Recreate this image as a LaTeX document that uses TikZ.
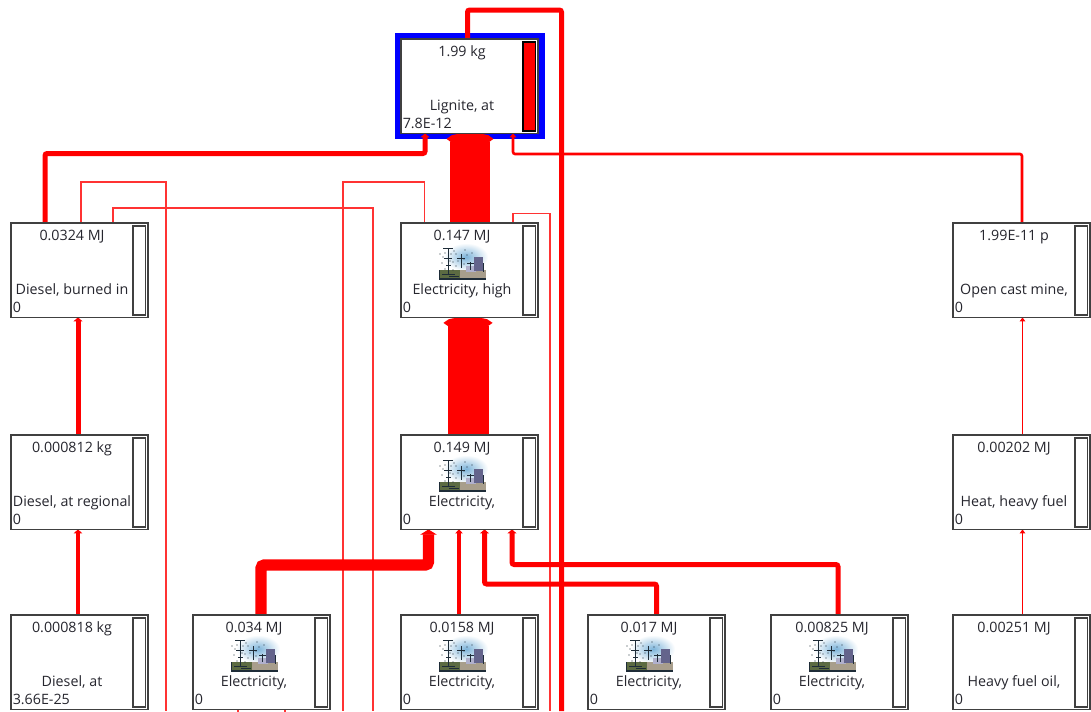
\documentclass[tikz,border=0pt]{standalone}
\usepackage{fontspec}
\setmainfont{Open Sans}
\usetikzlibrary{arrows.meta}
\pgfdeclarelayer{framelayer}
\pgfdeclarelayer{connlayer}
\pgfsetlayers{framelayer,connlayer,main}
\definecolor{boxgray}{HTML}{404040}
\definecolor{txt}{HTML}{26262E}
\definecolor{glow}{HTML}{7DB4DA}
\definecolor{soil}{HTML}{A89E8C}
\definecolor{grass}{HTML}{5C6B42}
\definecolor{plant}{HTML}{64648C}
\definecolor{plantb}{HTML}{B0B0CC}
\definecolor{pylon}{HTML}{1E2C38}
\tikzset{
  procbox/.style={draw=boxgray,fill=white,line width=1.1pt,inner sep=0pt,outer sep=0pt,minimum width=102.8pt,minimum height=70.8pt,anchor=north west},
  barbox/.style={draw=boxgray,fill=white,line width=1.1pt,inner sep=0pt,outer sep=0pt,minimum width=9.4pt,minimum height=66.8pt,anchor=north west},
  qtytext/.style={inner sep=0pt,anchor=base,text=txt,font=\fontsize{10.7}{12}\selectfont},
  valtext/.style={inner sep=0pt,anchor=base west,text=txt,font=\fontsize{10.7}{12}\selectfont},
  wire/.style={draw=red,line width=#1*0.75pt,rounded corners=1.6pt},
  thinwire/.style={draw=red!80,line width=1.1pt},
  flow/.style={wire=#1,-{Triangle[length=3pt 0 0,width=3pt 1 0]}},
  bigflow/.style 2 args={draw=red,line width=#1*0.75pt,rounded corners=1.6pt,-{Ellipse[length=8.25pt 0 0,width=#2*0.75pt 0 0]}},
}
% id, x, y, quantity, label, value
\newcommand{\procnode}[6]{%
  \node[procbox] (#1) at (#2,#3) {};
  \node[barbox] (#1-bar) at (#2+122,#3+3) {};
  \node[qtytext] (#1-qty) at (#2+61,#3+17.5) {#4};
  \node[qtytext] (#1-lab) at (#2+61,#3+71) {#5};
  \node[valtext] (#1-val) at (#2+1.5,#3+89.5) {#6};
}
\newcommand{\gridicon}[2]{%
  \begin{scope}[shift={(#1+38,#2+22)}]
    \shade[inner color=glow,outer color=white] (27,12) ellipse (22 and 14);
    \fill[soil] (0,25) rectangle (47,34);
    \fill[grass] (0,25) rectangle (21,33);
    \fill[pylon] (0,33) rectangle (47,34.5);
    \fill[pylon] (0,25) rectangle (1.2,34);
    \fill[plantb] (27,21) rectangle (37,27);
    \fill[plant] (35,12) rectangle (44,26);
    \fill[pylon] (44,18) rectangle (45,27);
    \draw[pylon,line width=0.7pt] (9,3) -- (9,30) (4,3.5) -- (14,3.5) (5,13) -- (13,13) (7,20) -- (12,20);
    \draw[pylon,line width=0.6pt] (22,9) -- (22,23) (18,13) -- (26,13);
    \draw[pylon,line width=0.6pt] (31,17) -- (31,25) (28,18) -- (35,18);
    \draw[pylon,line width=0.5pt] (3,29) -- (16,29) (10,31.5) -- (20,31.5);
    \foreach \dx/\dy in {1/9,4/12,15/6,17/9,26/5,28/10,14/17,17/21,25/19,3/18,19/16,6/8,12/9,11/16,6/24,14/25,25/14,33/8}
      \fill[pylon] (\dx,\dy) circle (0.7);
  \end{scope}%
}
\begin{document}
\begin{tikzpicture}[x=0.75pt,y=-0.75pt]
\useasboundingbox (0,0) rectangle (1091,711);
\begin{pgfonlayer}{framelayer}
  \fill[white] (0,0) rectangle (1091,711);
\end{pgfonlayer}

% process boxes
\procnode{lign}{401}{39}{1.99 kg}{Lignite, at}{7.8E-12}
\procnode{burn}{11}{223}{0.0324 MJ}{Diesel, burned in}{0}
\procnode{high}{401}{223}{0.147 MJ}{Electricity, high}{0}
\procnode{mine}{953}{223}{1.99E-11 p}{Open cast mine,}{0}
\procnode{regi}{11}{435}{0.000812 kg}{Diesel, at regional}{0}
\procnode{elec}{401}{435}{0.149 MJ}{Electricity,}{0}
\procnode{heat}{953}{435}{0.00202 MJ}{Heat, heavy fuel}{0}
\procnode{dies}{11}{615}{0.000818 kg}{Diesel, at}{3.66E-25}
\procnode{ea}{193}{615}{0.034 MJ}{Electricity,}{0}
\procnode{eb}{401}{615}{0.0158 MJ}{Electricity,}{0}
\procnode{ec}{588}{615}{0.017 MJ}{Electricity,}{0}
\procnode{ed}{771}{615}{0.00825 MJ}{Electricity,}{0}
\procnode{oil}{953}{615}{0.00251 MJ}{Heavy fuel oil,}{0}

% red bar of the selected process
\node[barbox,fill=red,draw=black,line width=0.9pt] (lign-level) at (523,42) {};

\gridicon{401}{223}
\gridicon{401}{435}
\gridicon{193}{615}
\gridicon{401}{615}
\gridicon{588}{615}
\gridicon{771}{615}

\begin{pgfonlayer}{framelayer}
  \node[draw=none,fill=blue,inner sep=0pt,outer sep=0pt,minimum width=112.5pt,minimum height=79.5pt,anchor=north west] (lign-frame) at (395,33) {};
\end{pgfonlayer}

\coordinate (bA) at (166,711);
\coordinate (bB) at (373,711);
\coordinate (bC) at (343,711);
\coordinate (bD) at (550,711);
\coordinate (bE) at (561.5,711);
\coordinate (bF) at (238,712);
\coordinate (bG) at (285,712);

\begin{pgfonlayer}{connlayer}
  % main trunks
  \draw[bigflow={40}{43}] (high.north -| 470,0) -- (lign.south -| 470,0);
  \draw[bigflow={41}{45}] (elec.north -| 468,0) -- (high.south -| 468,0);
  % lignite connections
  \draw[wire=5] (lign.north -| 467.5,0) -- (467.5,10) -- (561.5,10) -- (bE);
  \draw[flow=5] (burn.north -| 45,0) -- (45,153.5) -- (425,153.5) -- (lign.south -| 425,0);
  \draw[flow=2.6] (mine.north -| 1022,0) -- (1022,154) -- (513,154) -- (lign.south -| 513,0);
  % thin lines
  \draw[thinwire] (burn.north -| 81,0) -- (81,182) -- (166,182) -- (bA);
  \draw[thinwire] (burn.north -| 113,0) -- (113,208) -- (373,208) -- (bB);
  \draw[thinwire] (high.north -| 424.5,0) -- (424.5,182) -- (343,182) -- (bC);
  \draw[thinwire] (high.north -| 513,0) -- (513,213.5) -- (550,213.5) -- (bD);
  \draw[thinwire] (ea.south -| 238,0) -- (bF);
  \draw[thinwire] (ea.south -| 285,0) -- (bG);
  % left column
  \draw[flow=5] (regi.north -| 78,0) -- (burn.south -| 78,0);
  \draw[flow=4.5] (dies.north -| 78,0) -- (regi.south -| 78,0);
  % right column
  \draw[flow=1.5] (heat.north -| 1022.5,0) -- (mine.south -| 1022.5,0);
  \draw[flow=1.5] (oil.north -| 1022.5,0) -- (heat.south -| 1022.5,0);
  % into the 0.149 MJ process
  \draw[draw=red,line width=8.5pt,rounded corners=2.5pt,-{Triangle[length=4pt 0 0,width=12.5pt 0 0]}] (ea.north -| 261,0) -- (261,565) -- (428.5,565) -- (elec.south -| 428.5,0);
  \draw[flow=3.5] (eb.north -| 459,0) -- (elec.south -| 459,0);
  \draw[flow=5] (ec.north -| 656.5,0) -- (656.5,584) -- (484.5,584) -- (elec.south -| 484.5,0);
  \draw[flow=5] (ed.north -| 838,0) -- (838,564.5) -- (512,564.5) -- (elec.south -| 512,0);
\end{pgfonlayer}
\end{tikzpicture}
\end{document}
